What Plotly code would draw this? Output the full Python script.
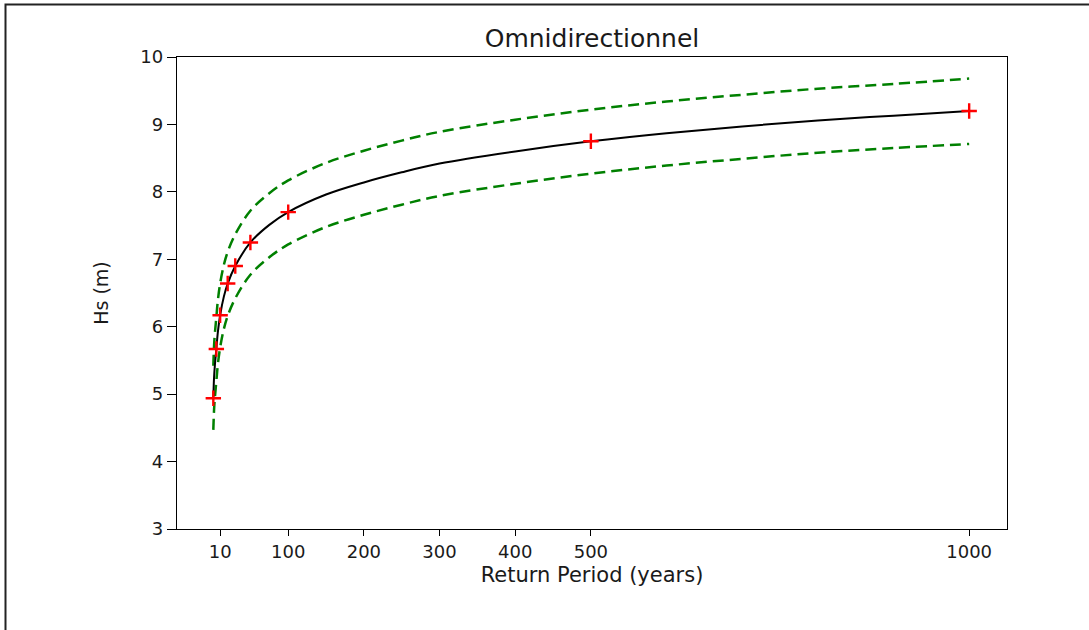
import plotly.graph_objects as go

# ---- data ----
return_period_curve = [1, 2, 3, 5, 7, 10, 15, 20, 30, 50, 75, 100, 150, 200, 250, 300, 400, 500, 600, 700, 800, 900, 1000]
hs_fit = [4.95, 5.25, 5.42, 5.67, 5.92, 6.17, 6.45, 6.64, 6.90, 7.25, 7.51, 7.70, 7.96, 8.14, 8.29, 8.42, 8.60, 8.75, 8.87, 8.97, 9.06, 9.13, 9.20]
hs_upper = [5.42, 5.72, 5.89, 6.14, 6.39, 6.64, 6.92, 7.11, 7.37, 7.72, 7.98, 8.17, 8.43, 8.61, 8.76, 8.89, 9.07, 9.22, 9.34, 9.44, 9.53, 9.60, 9.68]
hs_lower = [4.47, 4.77, 4.94, 5.19, 5.44, 5.69, 5.97, 6.16, 6.42, 6.77, 7.03, 7.22, 7.48, 7.66, 7.81, 7.94, 8.12, 8.27, 8.39, 8.49, 8.58, 8.65, 8.71]

return_period_pts = [1, 5, 10, 20, 30, 50, 100, 500, 1000]
hs_pts = [4.94, 5.67, 6.17, 6.64, 6.90, 7.25, 7.70, 8.75, 9.20]

x_tick_vals = [10, 100, 200, 300, 400, 500, 1000]
y_tick_vals = [3, 4, 5, 6, 7, 8, 9, 10]

title_text = "Omnidirectionnel"
x_label = "Return Period (years)"
y_label = "Hs (m)"

# ---- figure ----
W, H = 1089, 630
L, R, T, B = 177, 82, 57, 101
pw, ph = W - L - R, H - T - B

def px_to_paper_x(px):
    return (px - L) / pw

def px_to_paper_y(py):
    return (H - B - py) / ph

fig = go.Figure()
fig.add_trace(go.Scatter(x=return_period_curve, y=hs_upper, mode="lines",
                         line=dict(color="#008000", width=2.5, dash="11px,6px", shape="spline", smoothing=1.0),
                         showlegend=False, hoverinfo="skip"))
fig.add_trace(go.Scatter(x=return_period_curve, y=hs_lower, mode="lines",
                         line=dict(color="#008000", width=2.5, dash="11px,6px", shape="spline", smoothing=1.0),
                         showlegend=False, hoverinfo="skip"))
fig.add_trace(go.Scatter(x=return_period_curve, y=hs_fit, mode="lines",
                         line=dict(color="black", width=2, shape="spline", smoothing=1.0),
                         showlegend=False))
fig.add_trace(go.Scatter(x=return_period_pts, y=hs_pts, mode="markers",
                         marker=dict(symbol="cross-thin", size=11, line=dict(color="red", width=2.4)),
                         showlegend=False))

font_family = "DejaVu Sans"
fig.update_layout(
    width=W, height=H,
    margin=dict(l=L, r=R, t=T, b=B),
    paper_bgcolor="white", plot_bgcolor="white",
    font=dict(family=font_family, color="#1a1a1a", size=18),
    title=dict(text=title_text, x=px_to_paper_x(592), xref="paper", xanchor="center",
               y=1 - 38 / H, yanchor="middle", font=dict(size=25, family=font_family, color="#1a1a1a")),
    xaxis=dict(range=[-47, 1050], tickmode="array", tickvals=x_tick_vals,
               ticktext=[str(v) for v in x_tick_vals],
               showgrid=False, zeroline=False, showline=True, mirror=True,
               linecolor="black", linewidth=1.3, ticks="outside", ticklen=6, tickwidth=1.2,
               tickcolor="black", tickfont=dict(size=18),
               title=dict(text=x_label, font=dict(size=21), standoff=6)),
    yaxis=dict(range=[3, 10], tickmode="array", tickvals=y_tick_vals,
               showgrid=False, zeroline=False, showline=True, mirror=True,
               linecolor="black", linewidth=1.3, ticks="outside", ticklen=9, tickwidth=1.2,
               tickcolor="black", tickfont=dict(size=18),
               title=dict(text=y_label, font=dict(size=19), standoff=26)),
    shapes=[dict(type="rect", xref="paper", yref="paper",
                 x0=px_to_paper_x(5.5), x1=px_to_paper_x(1200),
                 y0=px_to_paper_y(700), y1=px_to_paper_y(4.5),
                 line=dict(color="#222222", width=2), fillcolor="rgba(0,0,0,0)", layer="above")],
)

fig.write_html("out.html")
